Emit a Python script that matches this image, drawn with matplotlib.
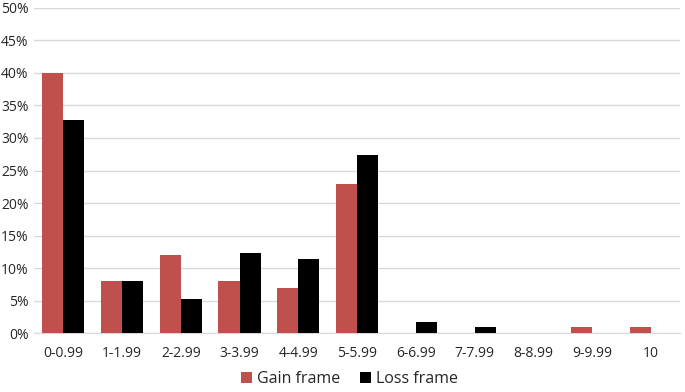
import numpy as np
import matplotlib
matplotlib.use('Agg')
import matplotlib.pyplot as plt
from matplotlib.ticker import FuncFormatter

# Данные
categories = ['0-0.99', '1-1.99', '2-2.99', '3-3.99', '4-4.99', '5-5.99',
              '6-6.99', '7-7.99', '8-8.99', '9-9.99', '10']
gain = [40, 8, 12, 8, 7, 23, 0, 0, 0, 1, 1]
loss = [32.7, 8, 5.2, 12.3, 11.4, 27.4, 1.7, 0.9, 0, 0, 0]

plt.rcParams['font.family'] = ['Open Sans', 'DejaVu Sans']

fig = plt.figure(figsize=(6.85, 3.92), dpi=100)
ax = fig.add_axes([0.0496, 0.15, 0.9434, 0.83])

x = np.arange(len(categories))
w = 0.36
ax.bar(x - w / 2, gain, w, color='#c0504d', label='Gain frame', zorder=3)
ax.bar(x + w / 2, loss, w, color='#000000', label='Loss frame', zorder=3)

ax.set_xlim(-0.5, len(categories) - 0.5)
ax.set_ylim(0, 50)
ax.set_yticks(range(0, 51, 5))
ax.yaxis.set_major_formatter(FuncFormatter(lambda v, p: f'{v:.0f}%'))
ax.set_xticks(x)
ax.set_xticklabels(categories)
ax.grid(axis='y', color='#d9d9d9', linewidth=1, zorder=0)
for s in ['top', 'right', 'left']:
    ax.spines[s].set_visible(False)
ax.spines['bottom'].set_color('#d9d9d9')
ax.tick_params(axis='both', length=0, labelsize=10, colors='#262626')
ax.tick_params(axis='x', pad=9)
ax.tick_params(axis='y', pad=4)

fig.legend(loc='lower center', bbox_to_anchor=(0.51, -0.025), ncol=2, frameon=False,
           fontsize=11.5, handlelength=0.7, handleheight=0.7, handletextpad=0.3,
           columnspacing=1.2, labelcolor='#262626')

fig.savefig('out.png', dpi=100)
